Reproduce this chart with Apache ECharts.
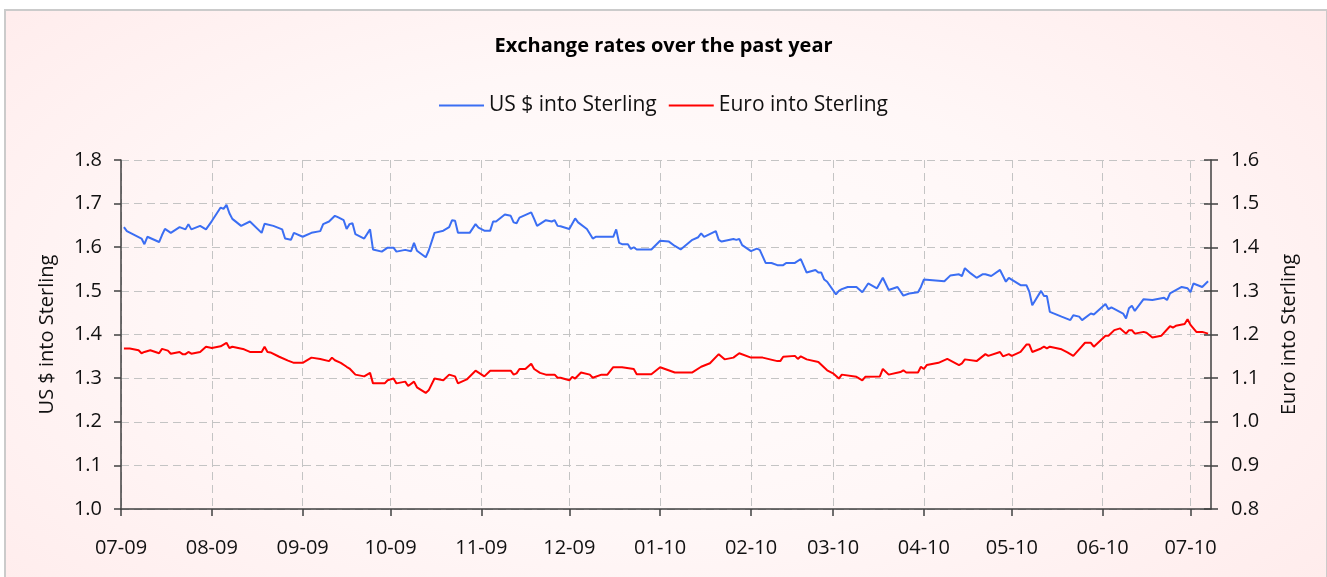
<!DOCTYPE html>
<html>
<head>
<meta charset="utf-8">
<script src="https://cdn.jsdelivr.net/npm/echarts@6/dist/echarts.min.js"></script>
<style>
  html, body { margin: 0; padding: 0; width: 1327px; height: 577px; overflow: hidden; background: #ffffff; }
  #frame { position: absolute; left: 4px; top: 9px; width: 1320px; height: 600px;
    border: 2px solid #cbcbcb;
    background: radial-gradient(ellipse 75% 85% at 48% 48%, #fffdfd 0%, #fff7f7 45%, #ffe9e9 100%); }
  #chart { position: absolute; left: 0; top: 0; width: 1327px; height: 577px; }
</style>
</head>
<body>
<div id="frame"></div>
<div id="chart"></div>
<script>
const titleText = 'Exchange rates over the past year';
const usdName = 'US $ into Sterling';
const eurName = 'Euro into Sterling';
const monthTicks = ['2009-07-01','2009-08-01','2009-09-01','2009-10-01','2009-11-01','2009-12-01',
  '2010-01-01','2010-02-01','2010-03-01','2010-04-01','2010-05-01','2010-06-01','2010-07-01'];

const usdDates = ['2009-07-02','2009-07-03','2009-07-08','2009-07-09','2009-07-10','2009-07-14','2009-07-15','2009-07-16','2009-07-18','2009-07-21','2009-07-23','2009-07-24','2009-07-25','2009-07-28','2009-07-30',
'2009-08-01','2009-08-04','2009-08-05','2009-08-06','2009-08-07','2009-08-08','2009-08-11','2009-08-14','2009-08-18','2009-08-19','2009-08-22','2009-08-25','2009-08-26','2009-08-28','2009-08-29',
'2009-09-01','2009-09-04','2009-09-07','2009-09-08','2009-09-10','2009-09-12','2009-09-13','2009-09-15','2009-09-16','2009-09-17','2009-09-18','2009-09-19','2009-09-22','2009-09-24','2009-09-25','2009-09-28','2009-09-30',
'2009-10-02','2009-10-03','2009-10-06','2009-10-08','2009-10-09','2009-10-10','2009-10-13','2009-10-14','2009-10-16','2009-10-19','2009-10-21','2009-10-22','2009-10-23','2009-10-24','2009-10-28','2009-10-30','2009-10-31',
'2009-11-02','2009-11-04','2009-11-05','2009-11-06','2009-11-09','2009-11-11','2009-11-12','2009-11-13','2009-11-14','2009-11-18','2009-11-19','2009-11-20','2009-11-23','2009-11-25','2009-11-26','2009-11-27','2009-11-28',
'2009-12-01','2009-12-03','2009-12-04','2009-12-07','2009-12-09','2009-12-10','2009-12-16','2009-12-17','2009-12-18','2009-12-19','2009-12-21','2009-12-22','2009-12-23','2009-12-24','2009-12-29',
'2010-01-01','2010-01-04','2010-01-06','2010-01-08','2010-01-12','2010-01-14','2010-01-15','2010-01-16','2010-01-20','2010-01-21','2010-01-22','2010-01-26','2010-01-27','2010-01-28','2010-01-29',
'2010-02-01','2010-02-03','2010-02-04','2010-02-06','2010-02-08','2010-02-10','2010-02-12','2010-02-13','2010-02-16','2010-02-18','2010-02-20','2010-02-23','2010-02-24','2010-02-25','2010-02-26','2010-02-27',
'2010-03-02','2010-03-03','2010-03-04','2010-03-06','2010-03-09','2010-03-11','2010-03-13','2010-03-16','2010-03-18','2010-03-20','2010-03-23','2010-03-25','2010-03-27','2010-03-30','2010-03-31',
'2010-04-01','2010-04-08','2010-04-10','2010-04-13','2010-04-14','2010-04-15','2010-04-17','2010-04-19','2010-04-21','2010-04-22','2010-04-24','2010-04-27','2010-04-29','2010-04-30',
'2010-05-04','2010-05-06','2010-05-07','2010-05-08','2010-05-11','2010-05-12','2010-05-13','2010-05-14','2010-05-18','2010-05-21','2010-05-22','2010-05-24','2010-05-25','2010-05-28','2010-05-29',
'2010-06-02','2010-06-03','2010-06-04','2010-06-08','2010-06-09','2010-06-10','2010-06-11','2010-06-12','2010-06-15','2010-06-18','2010-06-22','2010-06-23','2010-06-24','2010-06-28','2010-06-30',
'2010-07-01','2010-07-02','2010-07-05','2010-07-07'];
const usdRates = [1.646,1.637,1.620,1.607,1.624,1.612,1.628,1.642,1.633,1.646,1.641,1.653,1.641,1.649,1.641,
1.660,1.691,1.688,1.697,1.678,1.665,1.649,1.659,1.633,1.654,1.649,1.641,1.620,1.617,1.633,
1.624,1.633,1.637,1.653,1.659,1.672,1.669,1.662,1.642,1.653,1.655,1.630,1.620,1.641,1.595,1.590,1.599,
1.599,1.590,1.594,1.591,1.610,1.592,1.577,1.592,1.633,1.638,1.646,1.662,1.661,1.633,1.633,1.653,1.645,
1.638,1.638,1.659,1.659,1.675,1.672,1.657,1.655,1.668,1.680,1.665,1.649,1.662,1.659,1.662,1.649,1.648,
1.642,1.666,1.657,1.642,1.620,1.624,1.624,1.641,1.610,1.607,1.607,1.596,1.600,1.595,1.595,
1.615,1.613,1.603,1.595,1.617,1.623,1.632,1.624,1.637,1.617,1.613,1.619,1.617,1.619,1.605,
1.591,1.597,1.594,1.564,1.564,1.559,1.559,1.564,1.564,1.573,1.542,1.548,1.542,1.542,1.526,1.521,
1.492,1.500,1.504,1.509,1.509,1.497,1.517,1.506,1.530,1.502,1.509,1.489,1.494,1.497,1.509,
1.526,1.522,1.535,1.538,1.534,1.552,1.540,1.530,1.538,1.538,1.534,1.548,1.521,1.530,
1.513,1.513,1.498,1.467,1.500,1.488,1.488,1.452,1.441,1.433,1.444,1.441,1.433,1.448,1.446,
1.470,1.458,1.462,1.448,1.437,1.460,1.466,1.454,1.481,1.479,1.484,1.479,1.494,1.509,1.506,
1.497,1.517,1.509,1.522];

const eurDates = ['2009-07-02','2009-07-04','2009-07-07','2009-07-08','2009-07-09','2009-07-11','2009-07-14','2009-07-15','2009-07-17','2009-07-18','2009-07-21','2009-07-22','2009-07-23','2009-07-24','2009-07-25','2009-07-28','2009-07-30',
'2009-08-01','2009-08-04','2009-08-06','2009-08-07','2009-08-08','2009-08-12','2009-08-14','2009-08-18','2009-08-19','2009-08-20','2009-08-21','2009-08-24','2009-08-27','2009-08-29',
'2009-09-01','2009-09-04','2009-09-07','2009-09-10','2009-09-11','2009-09-12','2009-09-14','2009-09-16','2009-09-17','2009-09-19','2009-09-22','2009-09-24','2009-09-25','2009-09-29','2009-09-30',
'2009-10-02','2009-10-03','2009-10-06','2009-10-07','2009-10-09','2009-10-10','2009-10-13','2009-10-14','2009-10-16','2009-10-19','2009-10-21','2009-10-23','2009-10-24','2009-10-27','2009-10-30',
'2009-11-02','2009-11-04','2009-11-11','2009-11-12','2009-11-13','2009-11-14','2009-11-16','2009-11-18','2009-11-19','2009-11-21','2009-11-23','2009-11-26','2009-11-27','2009-11-28',
'2009-12-01','2009-12-02','2009-12-03','2009-12-05','2009-12-08','2009-12-09','2009-12-12','2009-12-14','2009-12-16','2009-12-19','2009-12-23','2009-12-24','2009-12-29',
'2010-01-01','2010-01-06','2010-01-12','2010-01-15','2010-01-18','2010-01-21','2010-01-23','2010-01-26','2010-01-28',
'2010-02-01','2010-02-05','2010-02-10','2010-02-11','2010-02-12','2010-02-16','2010-02-17','2010-02-18','2010-02-20','2010-02-24','2010-02-27',
'2010-03-01','2010-03-03','2010-03-04','2010-03-09','2010-03-11','2010-03-12','2010-03-17','2010-03-18','2010-03-20','2010-03-24','2010-03-25','2010-03-26','2010-03-30','2010-03-31',
'2010-04-01','2010-04-02','2010-04-06','2010-04-09','2010-04-13','2010-04-14','2010-04-15','2010-04-19','2010-04-22','2010-04-23','2010-04-27','2010-04-28','2010-04-30',
'2010-05-01','2010-05-04','2010-05-06','2010-05-07','2010-05-08','2010-05-11','2010-05-12','2010-05-13','2010-05-14','2010-05-18','2010-05-20','2010-05-22','2010-05-24','2010-05-26','2010-05-28','2010-05-29',
'2010-06-02','2010-06-03','2010-06-05','2010-06-07','2010-06-09','2010-06-10','2010-06-11','2010-06-12','2010-06-15','2010-06-16','2010-06-18','2010-06-21','2010-06-24','2010-06-25','2010-06-26','2010-06-29','2010-06-30',
'2010-07-01','2010-07-03','2010-07-05','2010-07-07'];
const eurRates = [1.168,1.168,1.164,1.157,1.160,1.164,1.157,1.167,1.163,1.156,1.160,1.155,1.155,1.160,1.156,1.160,1.172,
1.169,1.173,1.181,1.169,1.172,1.166,1.160,1.160,1.172,1.160,1.159,1.149,1.140,1.135,
1.135,1.147,1.144,1.139,1.147,1.141,1.135,1.126,1.122,1.108,1.104,1.112,1.088,1.088,1.095,
1.099,1.088,1.092,1.082,1.092,1.079,1.066,1.072,1.099,1.095,1.108,1.104,1.088,1.097,1.117,
1.104,1.117,1.117,1.108,1.111,1.121,1.121,1.133,1.121,1.112,1.108,1.108,1.101,1.101,
1.095,1.103,1.099,1.113,1.108,1.101,1.108,1.108,1.125,1.125,1.121,1.109,1.109,
1.125,1.113,1.113,1.126,1.134,1.155,1.143,1.147,1.157,
1.147,1.147,1.139,1.139,1.149,1.151,1.144,1.150,1.143,1.137,1.118,
1.111,1.099,1.108,1.103,1.095,1.103,1.104,1.121,1.108,1.114,1.118,1.113,1.113,1.126,
1.121,1.130,1.135,1.144,1.130,1.134,1.143,1.139,1.155,1.151,1.160,1.150,1.155,
1.151,1.160,1.177,1.177,1.160,1.168,1.172,1.168,1.172,1.166,1.159,1.151,1.166,1.181,1.181,1.172,
1.197,1.197,1.210,1.214,1.202,1.210,1.210,1.202,1.206,1.204,1.193,1.197,1.219,1.216,1.220,1.224,1.235,
1.222,1.206,1.206,1.202];

const xMin = '2009-07-01';
const xMax = '2010-07-08';

const FONT = '"Open Sans"';
const AXIS_COLOR = '#404040';
const GRID_COLOR = '#c4c4c4';

const toTime = s => +echarts.time.parse(s);
const tickValues = monthTicks.map(toTime);
const usdData = usdDates.map((d, i) => [toTime(d), usdRates[i]]);
const eurData = eurDates.map((d, i) => [toTime(d), eurRates[i]]);

const chart = echarts.init(document.getElementById('chart'), null, { renderer: 'canvas' });
const yCommon = {
  type: 'value', interval: 0.1,
  axisLine: { show: true, lineStyle: { color: AXIS_COLOR, width: 1.5 } },
  axisTick: { show: true, length: 7, lineStyle: { color: AXIS_COLOR, width: 1.5 } },
  axisLabel: { fontFamily: FONT, fontSize: 20, color: '#111', formatter: v => v.toFixed(1) },
  nameLocation: 'middle', nameRotate: 90,
  nameTextStyle: { fontFamily: FONT, fontSize: 20, color: '#111' }
};
chart.setOption({
  animation: false,
  title: { text: titleText, left: 'center', top: 36, padding: 0,
    textStyle: { fontFamily: FONT, fontSize: 20, fontWeight: 'bold', color: '#000' } },
  legend: { top: 95, left: 'center', itemWidth: 45, itemHeight: 2, itemGap: 12, icon: 'rect', padding: 0,
    textStyle: { fontFamily: FONT, fontSize: 21, color: '#111' },
    data: [usdName, eurName] },
  grid: { left: 121, right: 116, top: 160, bottom: 68, containLabel: false },
  xAxis: {
    type: 'value', min: toTime(xMin), max: toTime(xMax),
    axisLine: { lineStyle: { color: AXIS_COLOR, width: 1.5 } },
    axisTick: { show: true, length: 7, customValues: tickValues, lineStyle: { color: AXIS_COLOR, width: 1.5 } },
    axisLabel: { customValues: tickValues, fontFamily: FONT, fontSize: 20, color: '#111', margin: 29,
      formatter: v => echarts.time.format(v, '{MM}-{yy}', false) },
    splitLine: { show: true, lineStyle: { color: GRID_COLOR, type: [8, 5], width: 1 } }
  },
  yAxis: [
    Object.assign({}, yCommon, { min: 1.0, max: 1.8, position: 'left', name: usdName, nameGap: 64,
      axisLabel: Object.assign({}, yCommon.axisLabel, { margin: 19 }),
      splitLine: { show: true, lineStyle: { color: GRID_COLOR, type: [8, 5], width: 1 } } }),
    Object.assign({}, yCommon, { min: 0.8, max: 1.6, position: 'right', name: eurName, nameGap: 68,
      axisLabel: Object.assign({}, yCommon.axisLabel, { margin: 20 }),
      splitLine: { show: false } }),
    { type: 'value', min: 0.8, max: 1.6, interval: 0.1, position: 'right',
      axisLine: { show: false }, axisLabel: { show: false }, splitLine: { show: false },
      axisTick: { show: true, inside: true, length: 7, lineStyle: { color: AXIS_COLOR, width: 1.5 } } }
  ],
  series: [
    { name: usdName, type: 'line', yAxisIndex: 0, data: usdData, showSymbol: false, symbol: 'none',
      lineStyle: { color: '#3b6ef3', width: 2 }, itemStyle: { color: '#3b6ef3' } },
    { name: eurName, type: 'line', yAxisIndex: 1, data: eurData, showSymbol: false, symbol: 'none',
      lineStyle: { color: '#ff0000', width: 2 }, itemStyle: { color: '#ff0000' } }
  ]
});
</script>
</body>
</html>
